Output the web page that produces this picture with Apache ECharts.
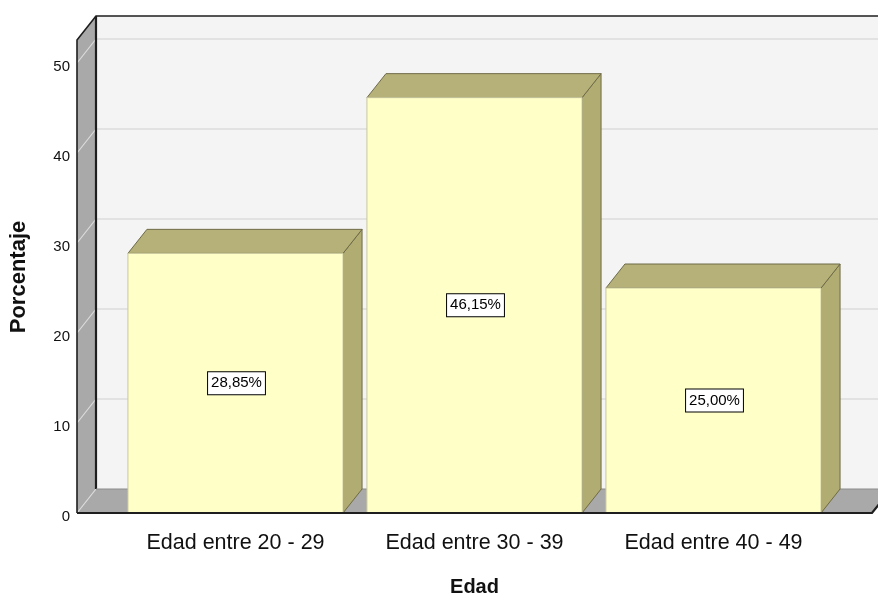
<!DOCTYPE html>
<html>
<head>
<meta charset="utf-8">
<title>Porcentaje por Edad</title>
<script src="https://cdn.jsdelivr.net/npm/echarts@6/dist/echarts.min.js"></script>
<style>
  html, body { margin: 0; padding: 0; background: #ffffff; }
  #chart { width: 878px; height: 595px; }
</style>
</head>
<body>
<div id="chart"></div>
<script>
// Age groups and their share of the sample (%)
const categories = ['Edad entre 20 - 29', 'Edad entre 30 - 39', 'Edad entre 40 - 49'];
const porcentajes = [28.85, 46.15, 25.00];
// Value axis ticks
const yMin = 0;
const yMax = 50;
const yStep = 10;

// 3D look: depth offset of the back plane relative to the front plane
const DX = 19;
const DY = 24;
const SIDE_PAD = 39;   // how far walls/floor extend beyond the category band

const COLORS = {
  backWall: '#f4f4f4',
  backGrid: '#e2e2e2',
  sideWall: '#a9a9a9',
  sideGrid: '#dcdcdc',
  edge: '#1e1e1e',
  barFront: '#ffffc8',
  barTop: '#b6b178',
  barSide: '#b1ac72',
  barEdge: '#6f6b47',
  text: '#111111'
};

const chart = echarts.init(document.getElementById('chart'), null, { renderer: 'canvas' });

function fmtPct(v) {
  return v.toFixed(2).replace('.', ',') + '%';
}

// Walls, floor, gridlines and tick labels of the 3D box
function renderFrame(params, api) {
  const cs = params.coordSys;
  const fx0 = cs.x - SIDE_PAD;             // front-left x
  const fx1 = cs.x + cs.width + SIDE_PAD;  // front-right x
  const y0 = api.coord([0, yMin])[1];      // front floor line
  const yTop = api.coord([0, yMax])[1];
  const topBack = yTop - DY - 23;          // top of the back wall
  const topFront = topBack + DY;
  const children = [];

  // back wall
  children.push({
    type: 'rect',
    shape: { x: fx0 + DX, y: topBack, width: fx1 - fx0 + 40, height: y0 - DY - topBack },
    style: { fill: COLORS.backWall }
  });
  // left wall
  children.push({
    type: 'polygon',
    shape: { points: [[fx0, topFront], [fx0 + DX, topBack], [fx0 + DX, y0 - DY], [fx0, y0]] },
    style: { fill: COLORS.sideWall }
  });
  // floor
  children.push({
    type: 'polygon',
    shape: { points: [[fx0, y0], [fx0 + DX, y0 - DY], [fx1 + DX, y0 - DY], [fx1, y0]] },
    style: { fill: COLORS.sideWall }
  });
  // gridlines on back wall and left wall, plus tick labels
  for (let v = yMin; v <= yMax; v += yStep) {
    const yf = api.coord([0, v])[1];
    if (v > yMin) {
      children.push({
        type: 'line',
        shape: { x1: fx0 + DX, y1: yf - DY, x2: fx1 + DX + 40, y2: yf - DY },
        style: { stroke: COLORS.backGrid, lineWidth: 2 }
      });
    }
    children.push({
      type: 'line',
      shape: { x1: fx0, y1: yf, x2: fx0 + DX, y2: yf - DY },
      style: { stroke: COLORS.sideGrid, lineWidth: 1.2 }
    });
    children.push({
      type: 'text',
      x: fx0 - 7,
      y: yf + 4,
      style: {
        text: String(v),
        fontFamily: 'Liberation Sans',
        fontSize: 15,
        fill: COLORS.text,
        align: 'right',
        verticalAlign: 'middle'
      }
    });
  }
  // outline edges
  children.push({
    type: 'polyline',
    shape: { points: [[fx0, y0], [fx0, topFront], [fx0 + DX, topBack], [fx1 + DX + 40, topBack]] },
    style: { stroke: COLORS.edge, lineWidth: 1.6, fill: null }
  });
  children.push({
    type: 'line',
    shape: { x1: fx0 + DX, y1: topBack, x2: fx0 + DX, y2: y0 - DY },
    style: { stroke: COLORS.edge, lineWidth: 2.2 }
  });
  children.push({
    type: 'line',
    shape: { x1: fx0 + DX, y1: y0 - DY, x2: fx1 + DX + 40, y2: y0 - DY },
    style: { stroke: '#8c8c8c', lineWidth: 1 }
  });
  return { type: 'group', children: children };
}

// Front edge of the floor, drawn over the bar bases
function renderFloorEdge(params, api) {
  const cs = params.coordSys;
  const fx0 = cs.x - SIDE_PAD;
  const fx1 = cs.x + cs.width + SIDE_PAD;
  const y0 = api.coord([0, yMin])[1];
  return {
    type: 'polyline',
    shape: { points: [[fx0, y0], [fx1, y0], [fx1 + DX, y0 - DY]] },
    style: { stroke: COLORS.edge, lineWidth: 2.2, fill: null }
  };
}

// One 3D bar: front face, top face, right side face and its value tag
function renderBar(params, api) {
  const idx = api.value(0);
  const val = api.value(1);
  const top = api.coord([idx, val]);
  const base = api.coord([idx, yMin]);
  const w = api.size([1, 0])[0] * 0.9;
  const x0 = top[0] - w / 2;
  const x1 = top[0] + w / 2;
  const yT = top[1];
  const yB = base[1];
  return {
    type: 'group',
    children: [
      {
        type: 'polygon',
        shape: { points: [[x1, yT], [x1 + DX, yT - DY], [x1 + DX, yB - DY], [x1, yB]] },
        style: { fill: COLORS.barSide, stroke: COLORS.barEdge, lineWidth: 1 }
      },
      {
        type: 'polygon',
        shape: { points: [[x0, yT], [x0 + DX, yT - DY], [x1 + DX, yT - DY], [x1, yT]] },
        style: { fill: COLORS.barTop, stroke: COLORS.barEdge, lineWidth: 1 }
      },
      {
        type: 'rect',
        shape: { x: x0, y: yT, width: w, height: yB - yT },
        style: { fill: COLORS.barFront, stroke: '#c9c79c', lineWidth: 1 }
      },
      {
        type: 'text',
        x: top[0] + 1,
        y: (yT + yB) / 2,
        style: {
          text: fmtPct(val),
          fontFamily: 'Liberation Sans',
          fontSize: 15,
          fill: '#000',
          align: 'center',
          verticalAlign: 'middle',
          backgroundColor: '#ffffff',
          borderColor: '#000000',
          borderWidth: 1,
          padding: [4, 3, 3, 3]
        }
      }
    ]
  };
}

const option = {
  animation: false,
  backgroundColor: '#ffffff',
  textStyle: { fontFamily: 'Liberation Sans' },
  grid: {
    left: 116,
    right: 45,
    top: 63,
    bottom: 82,
    outerBoundsMode: 'none'
  },
  xAxis: {
    type: 'category',
    data: categories,
    boundaryGap: true,
    axisLine: { show: false },
    axisTick: { show: false },
    axisLabel: { color: COLORS.text, fontSize: 21.5, margin: 19, interval: 0 },
    name: 'Edad',
    nameLocation: 'middle',
    nameGap: 64,
    nameTextStyle: { color: COLORS.text, fontSize: 20, fontWeight: 'bold' }
  },
  yAxis: {
    type: 'value',
    min: yMin,
    max: yMax,
    interval: yStep,
    axisLine: { show: false },
    axisTick: { show: false },
    splitLine: { show: false },
    axisLabel: { show: false },
    name: 'Porcentaje',
    nameLocation: 'middle',
    nameGap: 86,
    nameRotate: 90,
    nameTextStyle: { color: COLORS.text, fontSize: 22, fontWeight: 'bold', padding: [0, 0, 0, 22] }
  },
  series: [
    {
      type: 'custom',
      name: 'marco',
      silent: true,
      z: 1,
      data: [[0, 0]],
      renderItem: renderFrame
    },
    {
      type: 'custom',
      name: 'Porcentaje',
      z: 2,
      data: porcentajes.map(function (v, i) { return [i, v]; }),
      encode: { x: 0, y: 1 },
      renderItem: renderBar
    },
    {
      type: 'custom',
      name: 'suelo',
      silent: true,
      z: 3,
      data: [[0, 0]],
      renderItem: renderFloorEdge
    }
  ]
};

chart.setOption(option);
</script>
</body>
</html>
